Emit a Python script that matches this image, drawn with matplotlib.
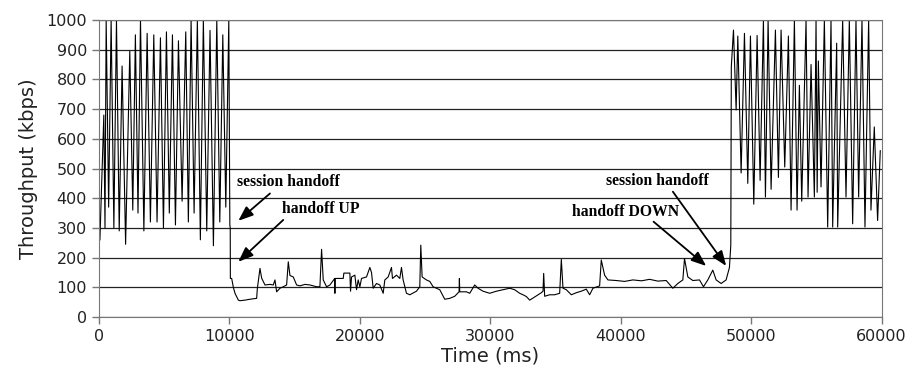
"""Throughput trace across a session handoff (kbps over time)."""

import numpy as np
import matplotlib
matplotlib.use("Agg")
import matplotlib.pyplot as plt

# first fast-link segment: peak/trough readings (ms, kbps)
fast1_ms = [80, 380, 470, 560, 750, 940, 1150, 1350, 1560, 1780, 2050, 2370, 2600, 2800,
            3000, 3190, 3450, 3700, 3950, 4210, 4460, 4720, 4950, 5180, 5400, 5640, 5870,
            6100, 6380, 6660, 6860, 7070, 7300, 7550, 7780, 8010, 8270, 8520, 8780, 9040,
            9270, 9500, 9730, 9960, 10040, 10070]
fast1_kbps = [260, 680, 300, 1000, 370, 1000, 300, 1000, 290, 845, 245, 895, 360, 950,
              350, 1000, 290, 955, 320, 950, 320, 940, 300, 960, 350, 950, 310,
              930, 390, 960, 320, 1000, 350, 1000, 260, 1000, 290, 965, 240, 1000,
              320, 950, 370, 1000, 310, 300]

# slow-link segment between the two handoffs
slow_ms = [10080, 10181, 10309, 10436, 10692, 10819, 11202, 11585, 12095, 12146, 12350,
           12478, 12733, 13116, 13371, 13499, 13626, 13882, 14137, 14392, 14520, 14647,
           14902, 15158, 15413, 15796, 16178, 16689, 16944, 17072, 17199, 17454, 17710,
           18080, 18092, 18105, 18220, 18730, 18781, 19241, 19292, 19368, 19624, 19751,
           19879, 20006, 20134, 20517, 20772, 20900, 21027, 21282, 21538, 21793, 21920,
           22176, 22431, 22507, 22814, 23069, 23196, 23324, 23579, 23834, 24345, 24600,
           24677, 24779, 25110, 25366, 25621, 26131, 26514, 26897, 27280, 27611, 27637,
           27662, 28173, 28428, 28811, 29066, 29449, 29959, 30470, 30980, 31490, 31873,
           32256, 32514, 32770, 33025, 33280, 33663, 33918, 34046, 34097, 34173, 34556,
           34939, 35322, 35449, 35577, 35832, 36215, 36598, 36980, 37363, 37618, 37874,
           38384, 38512, 38767, 39022, 39660, 40300, 40936, 41600, 42212, 42850, 43488,
           43998, 44381, 44764, 44892, 45147, 45530, 46040, 46346, 46678, 47061, 47316,
           47699, 48081, 48336, 48440]
slow_kbps = [130, 130, 100, 80, 57, 55, 57, 60, 63, 95, 164,
             131, 108, 110, 108, 125, 85, 97, 102, 108, 186, 140,
             135, 108, 105, 110, 108, 102, 102, 228, 125, 102, 108,
             130, 80, 130, 130, 130, 148, 148, 87, 135, 141, 92,
             125, 102, 130, 135, 167, 150, 97, 113, 108, 80, 125,
             135, 167, 130, 141, 130, 167, 125, 80, 75, 87, 102,
             242, 135, 125, 120, 102, 92, 60, 63, 70, 85, 130,
             85, 85, 80, 108, 97, 87, 80, 87, 92, 97, 92,
             80, 75, 69, 57, 64, 75, 82, 87, 147, 70, 75,
             75, 80, 194, 97, 92, 75, 82, 87, 94, 75, 97,
             105, 192, 141, 125, 123, 120, 125, 122, 127, 121, 123,
             97, 113, 125, 197, 135, 123, 125, 102, 125, 158, 125,
             113, 125, 167, 242]

# second fast-link segment
fast2_ms = [48480, 48645, 48849, 48977, 49232, 49487, 49742, 49946, 50202, 50457, 50686,
            50941, 51095, 51299, 51529, 51860, 52090, 52294, 52575, 52856, 53060, 53315,
            53519, 53698, 53877, 54208, 54361, 54591, 54846, 54974, 55060, 55152, 55357,
            55612, 55867, 56122, 56250, 56556, 56633, 57015, 57271, 57526, 57781, 58036,
            58240, 58496, 58725, 59006, 59184, 59439, 59694, 59898]
fast2_kbps = [843, 966, 697, 946, 485, 955, 450, 946, 380, 948, 460,
              1000, 404, 1000, 430, 966, 470, 966, 505, 946, 360, 1000,
              360, 780, 390, 1000, 404, 850, 404, 1000, 420, 862, 438,
              1000, 303, 1000, 303, 922, 303, 1000, 404, 1000, 314, 1000,
              404, 1000, 303, 1000, 360, 640, 325, 560]

notes = ["session handoff", "handoff UP", "handoff DOWN", "session handoff"]
note_xy = [(10566, 453), (14012, 364), (36294, 354), (38898, 458)]
arrow_tail = [(13116, 416), (14135, 327), (42520, 321), (44000, 422)]
arrow_head = [(10689, 324), (10689, 186), (46554, 172), (48086, 172)]

time_ms = np.array(fast1_ms + slow_ms + fast2_ms)
kbps = np.array(fast1_kbps + slow_kbps + fast2_kbps)

fig = plt.figure(figsize=(9.07, 3.77), dpi=100)
ax = fig.add_axes([0.109, 0.159, 0.863, 0.788])
ax.plot(time_ms, kbps, color="black", linewidth=0.8)

ax.set_xlim(0, 60000)
ax.set_ylim(0, 1000)
ax.set_xticks(range(0, 60001, 10000))
ax.set_yticks(range(0, 1001, 100))
ax.yaxis.grid(True, color="#222222", linewidth=0.9)
ax.set_axisbelow(True)
for side in ("left", "bottom", "right", "top"):
    ax.spines[side].set_color("#777777")
ax.tick_params(axis="both", colors="#777777", labelcolor="#222222", labelsize=11.5,
               length=5, width=1)
ax.set_xlabel("Time (ms)", fontsize=14, color="#222222", labelpad=2)
ax.set_ylabel("Throughput (kbps)", fontsize=14, color="#222222", labelpad=6)

for text, xy, tail, head in zip(notes, note_xy, arrow_tail, arrow_head):
    ax.text(xy[0], xy[1], text, family="Liberation Serif", weight="bold", fontsize=11.3,
            va="center", ha="left")
    ax.annotate("", xy=head, xytext=tail,
                arrowprops=dict(arrowstyle="-|>,head_length=0.9,head_width=0.35",
                                color="black", linewidth=1.3, shrinkA=0, shrinkB=0))

fig.savefig("out.png", dpi=100)
